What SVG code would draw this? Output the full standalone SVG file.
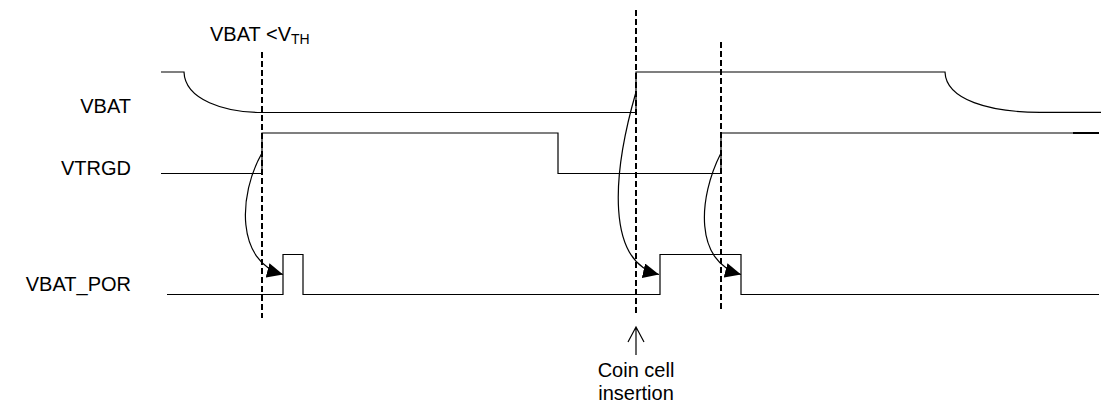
<svg xmlns="http://www.w3.org/2000/svg" width="1101" height="406" viewBox="0 0 1101 406">
  <style>
    .lbl { font-family: "Liberation Sans", Arial, sans-serif; font-size: 20px; fill: #000; }
    .sig { fill: none; stroke: #000; stroke-width: 1.2; }
    .dash { fill: none; stroke: #000; stroke-width: 2; stroke-dasharray: 6 3; }
    .conn { fill: none; stroke: #000; stroke-width: 1.2; }
  </style>
  <defs>
    <marker id="tri" viewBox="0 0 16 15" refX="16" refY="7.5" markerWidth="16" markerHeight="15" markerUnits="userSpaceOnUse" orient="auto">
      <path d="M0,0 L16,7.5 L0,15 Z" fill="#000"/>
    </marker>
  </defs>
  <rect width="1101" height="406" fill="#fff"/>

  <g id="label-vbat-vth">
    <text class="lbl" x="210" y="41">VBAT &lt;V<tspan font-size="14" dy="3">TH</tspan></text>
  </g>

  <g id="signal-vbat">
    <text class="lbl" x="131" y="113" text-anchor="end">VBAT</text>
    <path class="sig" d="M161,72 H184 C185,100 225,112.5 262,112.5 H636 V72 H945 C946,100 990,112.3 1040,112.3 H1101"/>
  </g>

  <g id="signal-vtrgd">
    <text class="lbl" x="131" y="175" text-anchor="end">VTRGD</text>
    <path class="sig" d="M161,173.5 H262 V133 H558 V173.5 H721 V133 H1099"/>
    <path d="M1073,133 H1099" stroke="#000" stroke-width="2"/>
  </g>

  <g id="signal-vbat-por">
    <text class="lbl" x="131" y="291" text-anchor="end">VBAT_POR</text>
    <path class="sig" d="M167,294.5 H283 V254.5 H303 V294.5 H660 V254.5 H741 V294.5 H1099"/>
  </g>

  <g id="markers">
    <line class="dash" x1="262" y1="52" x2="262" y2="318"/>
    <line class="dash" x1="636" y1="10" x2="636" y2="316"/>
    <line class="dash" x1="721" y1="42" x2="721" y2="312"/>
  </g>

  <g id="connectors">
    <path class="conn" marker-end="url(#tri)" d="M262,153 C238,195 236,262 283,274.5"/>
    <path class="conn" marker-end="url(#tri)" d="M636,92 C612,175 606,262 659,274.5"/>
    <path class="conn" marker-end="url(#tri)" d="M721,153 C698,198 694,262 741,274.5"/>
  </g>

  <g id="coin-cell-insertion">
    <path class="conn" d="M636,355 V327 M628,342 L636,327 L644,342"/>
    <text class="lbl" x="636" y="377" text-anchor="middle">Coin cell</text>
    <text class="lbl" x="636" y="400" text-anchor="middle">insertion</text>
  </g>
</svg>
